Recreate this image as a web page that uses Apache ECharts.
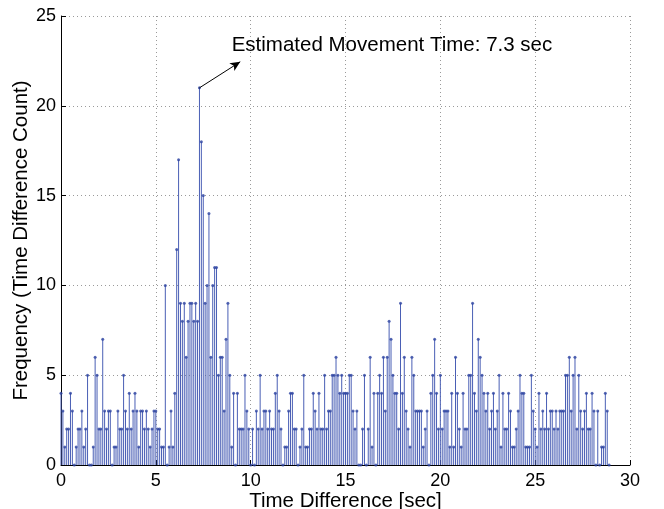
<!DOCTYPE html>
<html><head><meta charset="utf-8">
<script src="https://cdn.jsdelivr.net/npm/echarts@6/dist/echarts.min.js"></script>
<style>html,body{margin:0;padding:0;background:#fff}#c{width:664px;height:509px}</style>
</head><body><div id="c"></div>
<script>
// Bin spacing of the time-difference histogram (sec)
const binStart = 0;
const binStep = 0.1;
// Count per bin (bins 0.0 .. 28.9 sec)
const counts = [
 4,3,1,2,2,4,3,0,1,2,
 2,3,1,2,5,0,0,1,6,5,
 2,2,7,3,2,3,3,0,1,1,
 3,2,2,5,3,2,4,2,3,4,
 3,1,3,3,2,3,2,1,2,3,
 3,2,2,1,1,10,0,1,3,1,
 4,12,17,9,8,9,6,8,9,9,
 8,9,8,21,18,15,9,10,14,6,
 10,11,11,5,6,6,3,7,9,5,
 1,4,0,4,2,2,2,5,3,2,
 0,2,0,3,2,5,2,3,3,2,
 3,2,2,4,5,3,2,0,1,1,
 3,4,4,2,2,0,1,2,5,1,
 1,2,2,4,3,2,4,2,2,5,
 2,3,3,5,5,6,5,4,5,4,
 4,4,5,5,3,2,3,0,0,2,
 5,0,2,6,1,4,0,4,5,4,
 6,3,6,8,7,5,4,4,2,9,
 4,6,3,2,1,6,5,3,3,3,
 3,1,2,3,0,4,5,7,4,2,
 5,2,3,3,3,1,4,1,6,4,
 2,1,4,2,2,5,5,9,4,3,
 7,6,5,4,3,4,2,3,4,2,
 3,5,1,4,2,2,4,3,1,1,
 2,3,5,4,4,1,1,1,5,3,
 2,1,4,2,3,2,4,2,3,3,
 2,3,2,3,3,3,5,5,6,3,
 5,6,2,5,3,2,3,4,2,2,
 4,3,0,3,0,1,1,4,3,0
];
const xTicks = [0,5,10,15,20,25,30];
const yTicks = [0,5,10,15,20,25];
const peakPoint = [7.3, 21];
const arrowHead = [9.45, 22.45];
const textAnchor = [9.0, 23.3];
const annotationText = 'Estimated Movement Time: 7.3 sec';
const xTitle = 'Time Difference [sec]';
const yTitle = 'Frequency (Time Difference Count)';

const points = counts.map((c, i) => [Math.round((binStart + i * binStep) * 10) / 10, c]);
const FONT = '"Liberation Sans", Arial, Helvetica, sans-serif';
const chart = echarts.init(document.getElementById('c'), null, {renderer: 'canvas'});

const gridLine = {show: true, lineStyle: {color: '#9a9a9a', type: [1, 3], width: 1}};
chart.setOption({
  animation: false,
  backgroundColor: '#fff',
  grid: {left: 61, right: 34, top: 16, bottom: 44, containLabel: false, outerBoundsMode: 'none'},
  xAxis: {
    type: 'value', min: xTicks[0], max: xTicks[xTicks.length - 1], interval: 5,
    axisLine: {onZero: false, lineStyle: {color: '#000', width: 1}},
    axisTick: {inside: true, length: 5, lineStyle: {color: '#000'}},
    axisLabel: {color: '#000', fontSize: 18, fontFamily: FONT, margin: 7},
    splitLine: gridLine,
    name: xTitle, nameLocation: 'middle', nameGap: 26, nameMoveOverlap: false,
    nameTextStyle: {color: '#000', fontSize: 20.5, fontFamily: FONT}
  },
  yAxis: {
    type: 'value', min: yTicks[0], max: yTicks[yTicks.length - 1], interval: 5,
    axisLine: {show: true, lineStyle: {color: '#000', width: 1}},
    axisTick: {show: true, inside: true, length: 5, lineStyle: {color: '#000'}},
    axisLabel: {color: '#000', fontSize: 18, fontFamily: FONT, margin: 5},
    splitLine: gridLine,
    name: yTitle, nameLocation: 'middle', nameGap: 29, nameMoveOverlap: false,
    nameTextStyle: {color: '#000', fontSize: 20.5, fontFamily: FONT}
  },
  series: [
    {
      type: 'custom',
      data: points,
      renderItem: (params, api) => {
        const b = api.coord([api.value(0), 0]);
        const t = api.coord([api.value(0), api.value(1)]);
        return {type: 'line', shape: {x1: b[0], y1: b[1], x2: t[0], y2: t[1]},
          style: {stroke: '#4a5fb5', lineWidth: 1}};
      },
      z: 2
    },
    {
      type: 'scatter',
      data: points,
      symbol: 'circle',
      symbolSize: 3,
      itemStyle: {color: '#2c42a0'},
      z: 3,
      markLine: {
        silent: true,
        symbol: ['none', 'arrow'],
        symbolSize: [7, 10],
        label: {show: false},
        lineStyle: {color: '#000', width: 1, type: 'solid'},
        data: [[{coord: peakPoint}, {coord: arrowHead}]]
      }
    }
  ]
});
const tp = chart.convertToPixel({gridIndex: 0}, textAnchor);
chart.setOption({
  graphic: [{
    type: 'text', left: tp[0], top: tp[1] - 12,
    style: {text: annotationText, fill: '#000', fontSize: 20.5, fontFamily: FONT}
  }]
});
</script></body></html>
